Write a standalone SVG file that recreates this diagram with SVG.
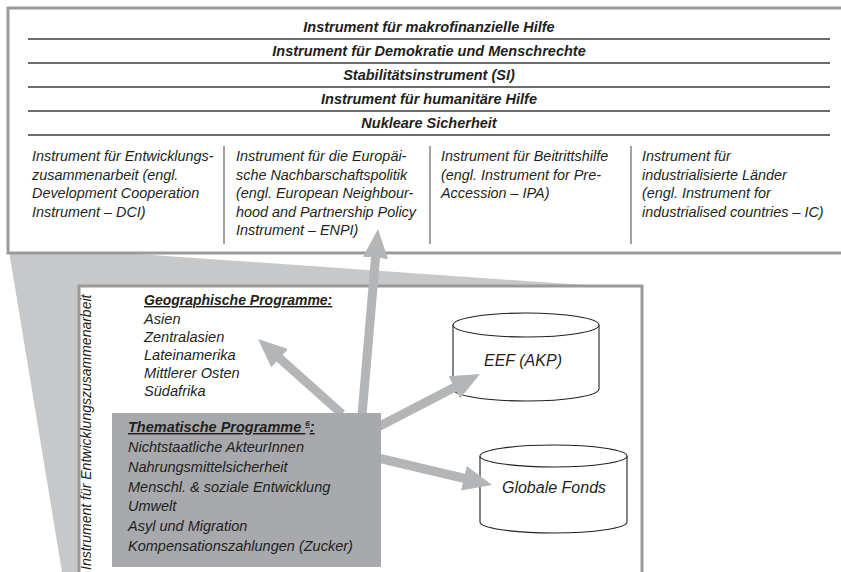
<svg xmlns="http://www.w3.org/2000/svg" width="841" height="572" viewBox="0 0 841 572">
<defs>
<style>
.t{font-family:"Liberation Sans Narrow","Liberation Sans",Arial,sans-serif;font-style:italic;fill:#231f20}
.row{font-size:14.5px;font-weight:bold;text-anchor:middle}
.col{font-size:14.4px}
.geo{font-size:14.6px}
.gh{font-size:14px}
.th{font-size:14.5px}
.hd{font-weight:bold;text-decoration:underline}
.cyl{font-family:"Liberation Sans",Arial,sans-serif;font-style:italic;font-size:16px;fill:#231f20;text-anchor:middle}
.rl{stroke:#3a3a3a;stroke-width:1.3}
.sep{stroke:#444;stroke-width:1}
.frame{fill:#fff;stroke:#9a9a9a;stroke-width:3}
.shaft{stroke:#b4b5b7;stroke-width:9;fill:none}
.db{fill:#fff;stroke:#231f20;stroke-width:1.1}
</style>
<marker id="ah" markerUnits="userSpaceOnUse" markerWidth="32" markerHeight="28" viewBox="0 -14 32 28" refX="1" refY="0" orient="auto">
<path d="M0,-12.5 L29,0 L0,12.5 Z" fill="#b4b5b7"/>
</marker>
</defs>

<g id="wedge">
<polygon points="8,245 590,285.5 79,285.5 79,572 62,572" fill="#c7c8ca"/>
</g>

<g id="instruments">
<rect class="frame" x="8" y="8" width="860" height="245"/>
<text class="t row" x="429" y="32">Instrument für makrofinanzielle Hilfe</text>
<line class="rl" x1="28" y1="39" x2="830" y2="39"/>
<text class="t row" x="429" y="56">Instrument für Demokratie und Menschrechte</text>
<line class="rl" x1="28" y1="63" x2="830" y2="63"/>
<text class="t row" x="429" y="80">Stabilitätsinstrument (SI)</text>
<line class="rl" x1="28" y1="87" x2="830" y2="87"/>
<text class="t row" x="429" y="104">Instrument für humanitäre Hilfe</text>
<line class="rl" x1="28" y1="111" x2="830" y2="111"/>
<text class="t row" x="429" y="128">Nukleare Sicherheit</text>
<line class="rl" x1="28" y1="135" x2="830" y2="135"/>
<line class="sep" x1="224" y1="146" x2="224" y2="244"/>
<line class="sep" x1="430" y1="146" x2="430" y2="244"/>
<line class="sep" x1="631" y1="146" x2="631" y2="244"/>
</g>

<g id="dci">
<text class="t col" x="32" y="161">Instrument für Entwicklungs-</text>
<text class="t col" x="32" y="179.5">zusammenarbeit (engl.</text>
<text class="t col" x="32" y="198">Development Cooperation</text>
<text class="t col" x="32" y="216.5">Instrument – DCI)</text>
</g>
<g id="enpi">
<text class="t col" x="236" y="161">Instrument für die Europäi-</text>
<text class="t col" x="236" y="179.5">sche Nachbarschaftspolitik</text>
<text class="t col" x="236" y="198">(engl. European Neighbour-</text>
<text class="t col" x="236" y="216.5">hood and Partnership Policy</text>
<text class="t col" x="236" y="235">Instrument – ENPI)</text>
</g>
<g id="ipa">
<text class="t col" x="441" y="161">Instrument für Beitrittshilfe</text>
<text class="t col" x="441" y="179.5">(engl. Instrument for Pre-</text>
<text class="t col" x="441" y="198">Accession – IPA)</text>
</g>
<g id="ic">
<text class="t col" x="642" y="161">Instrument für</text>
<text class="t col" x="642" y="179.5">industrialisierte Länder</text>
<text class="t col" x="642" y="198">(engl. Instrument for</text>
<text class="t col" x="642" y="216.5">industrialised countries – IC)</text>
</g>

<g id="dci-panel">
<rect class="frame" x="79" y="286" width="563" height="300"/>
<text class="t" font-size="14" transform="translate(91,570) rotate(-90)">Instrument für Entwicklungszusammenarbeit</text>
</g>

<g id="geo">
<text class="t gh hd" x="144" y="305">Geographische Programme:</text>
<text class="t geo" x="144" y="323.5">Asien</text>
<text class="t geo" x="144" y="341.5">Zentralasien</text>
<text class="t geo" x="144" y="359.5">Lateinamerika</text>
<text class="t geo" x="144" y="377.5">Mittlerer Osten</text>
<text class="t geo" x="144" y="395.5">Südafrika</text>
</g>

<g id="eef">
<path class="db" d="M453,325 L453,389 A73,12 0 0 0 599,389 L599,325"/>
<ellipse class="db" cx="526" cy="325" rx="73" ry="12"/>
<text class="cyl" x="523" y="366">EEF (AKP)</text>
</g>

<g id="globale">
<path class="db" d="M480,456 L480,522 A73.5,11 0 0 0 627,522 L627,456"/>
<ellipse class="db" cx="553.5" cy="456" rx="73.5" ry="11"/>
<text class="cyl" x="554" y="493">Globale Fonds</text>
</g>

<g id="connectors">
<line class="shaft" x1="362" y1="415" x2="375.6" y2="256.9" marker-end="url(#ah)"/>
<line class="shaft" x1="342" y1="414" x2="278.9" y2="357.6" marker-end="url(#ah)"/>
<line class="shaft" x1="376" y1="428" x2="455.2" y2="386.9" marker-end="url(#ah)"/>
<line class="shaft" x1="378" y1="458" x2="464.8" y2="478.5" marker-end="url(#ah)"/>
</g>

<g id="thematic">
<rect x="112" y="413" width="269" height="154" fill="#a7a9ac"/>
<text class="t th hd" x="128" y="432">Thematische Programme <tspan font-size="8" dy="-6">6</tspan><tspan dy="6">:</tspan></text>
<text class="t th" x="128" y="452">Nichtstaatliche AkteurInnen</text>
<text class="t th" x="128" y="472">Nahrungsmittelsicherheit</text>
<text class="t th" x="128" y="491.5">Menschl. &amp; soziale Entwicklung</text>
<text class="t th" x="128" y="511">Umwelt</text>
<text class="t th" x="128" y="531">Asyl und Migration</text>
<text class="t th" x="128" y="551">Kompensationszahlungen (Zucker)</text>
</g>
</svg>
